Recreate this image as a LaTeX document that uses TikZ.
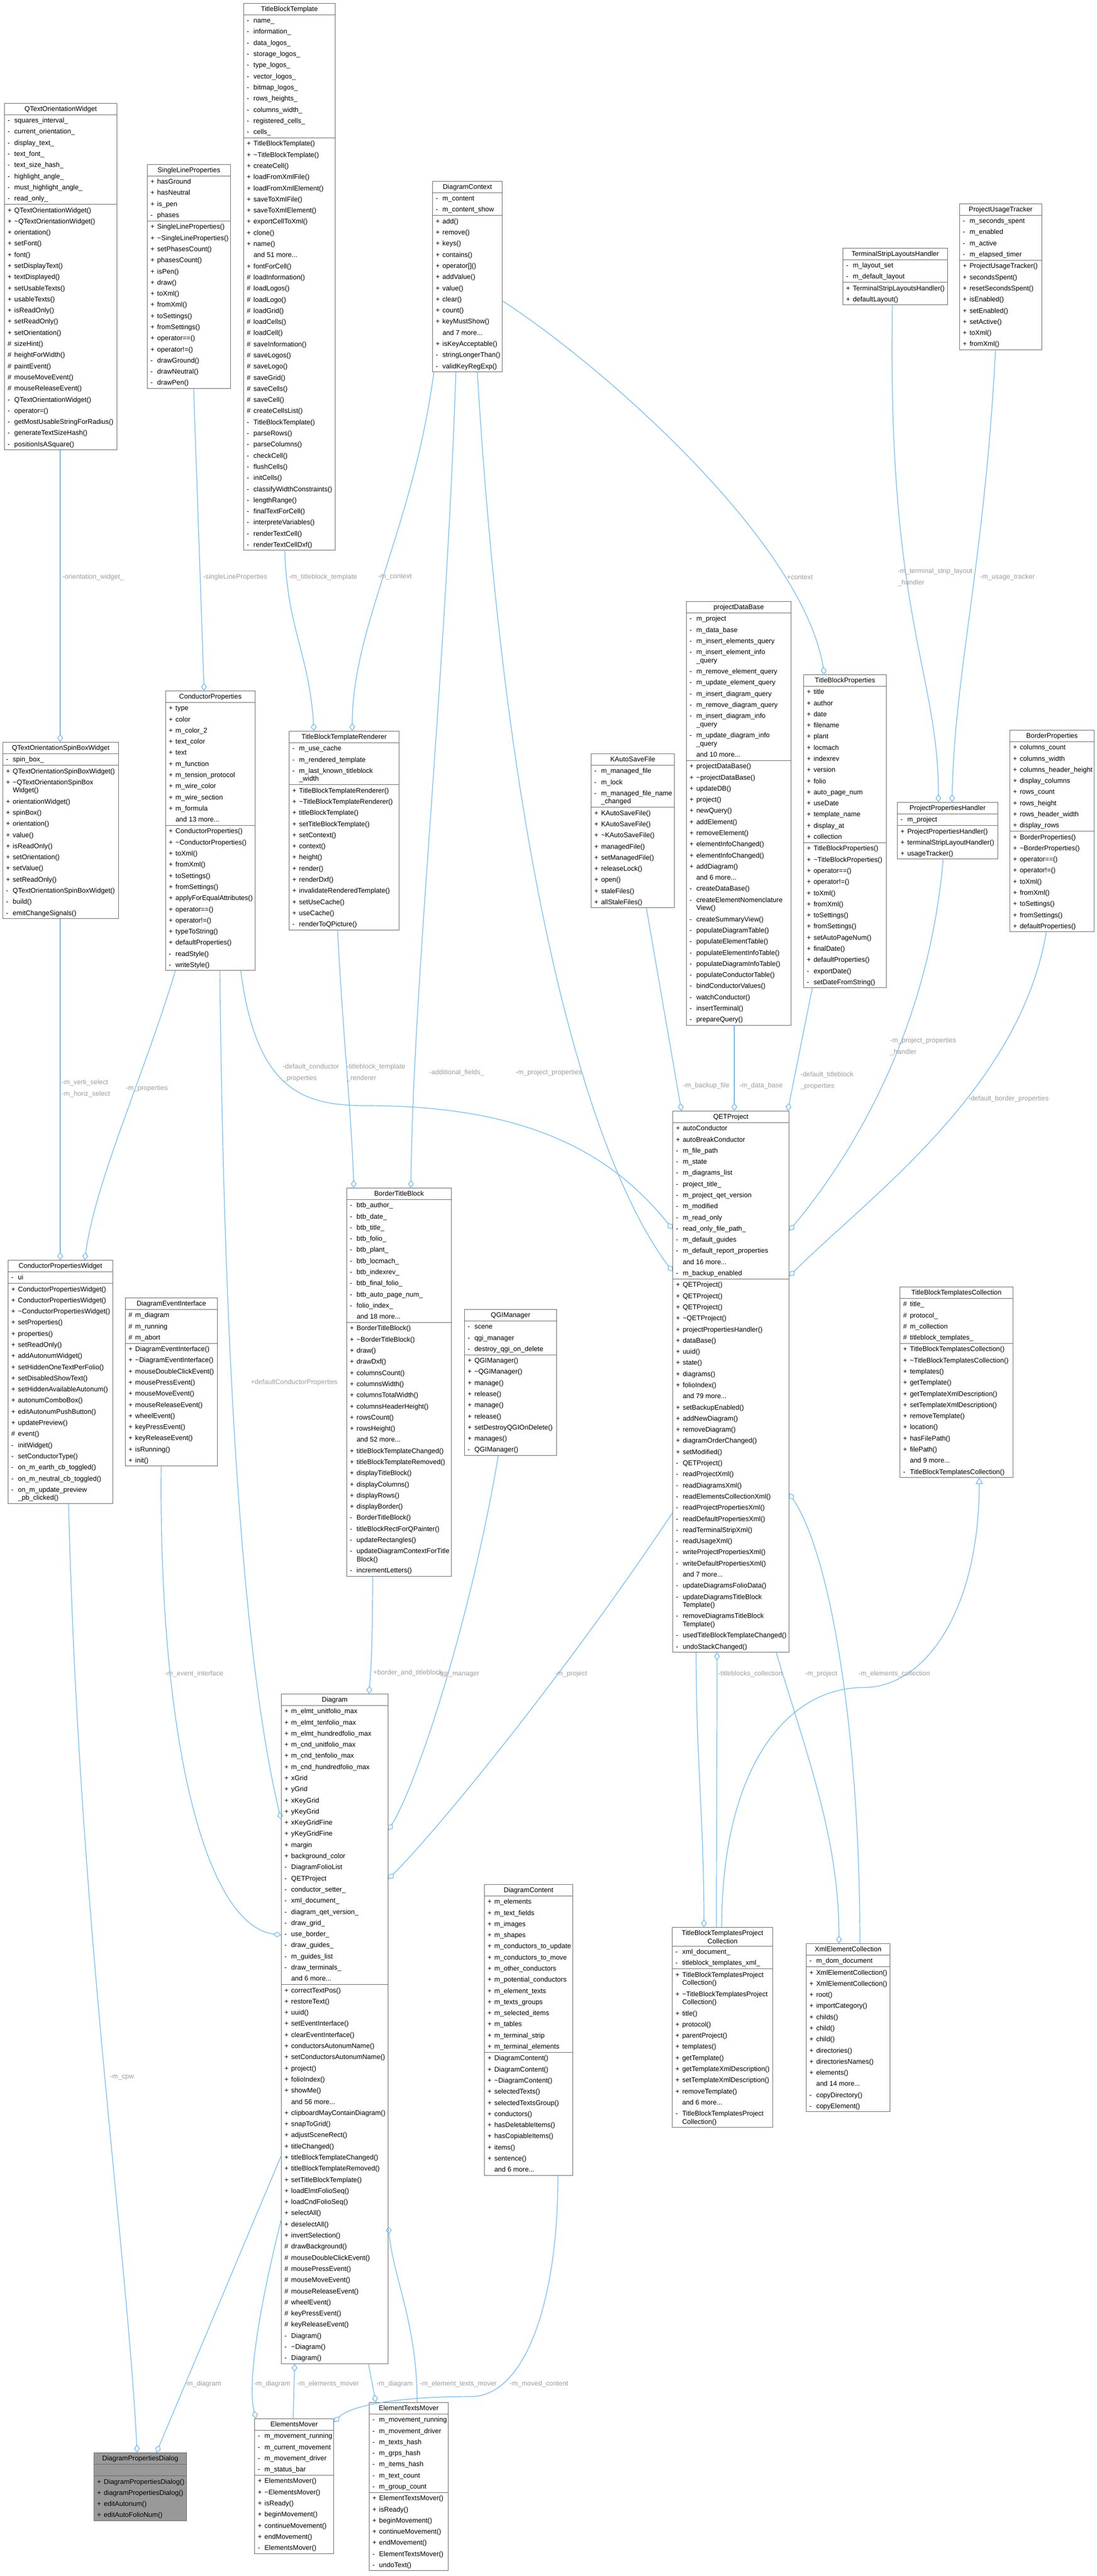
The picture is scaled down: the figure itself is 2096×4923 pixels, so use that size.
\documentclass[tikz,border=0pt]{standalone}
\usepackage{fontspec}
\setmainfont{Liberation Sans}
\usepackage{array,colortbl}
\usetikzlibrary{positioning,calc,arrows.meta}

\definecolor{boxline}{RGB}{102,102,102}
\definecolor{edgeblue}{RGB}{99,184,255}
\definecolor{lblgray}{RGB}{158,158,158}
\definecolor{focusfill}{RGB}{153,153,153}

\newcommand{\clsfont}{\fontsize{6.5}{7.8}\selectfont}
\renewcommand{\arraystretch}{1.365}
\setlength{\arrayrulewidth}{0.5pt}
\arrayrulecolor{boxline}
\newcommand{\tld}{\textasciitilde}
\newcommand{\twoline}[2]{{\renewcommand{\arraystretch}{1}\begin{tabular}[t]{@{}c@{}}#1\\#2\end{tabular}}}

% class box: width (px), title, attributes, methods
\newcommand{\classbox}[4]{%
  \begin{tabular}{@{\hspace{3pt}}>{\raggedright\arraybackslash}p{6.5pt}@{}>{\raggedright\arraybackslash}p{\dimexpr #1pt/2-9.5pt\relax}@{}}
  \multicolumn{2}{@{}c@{}}{#2}\\\hline
  #3\hline
  #4
  \end{tabular}}

\tikzset{
  classnode/.style={draw=boxline, line width=0.5pt, fill=white, inner sep=0pt, anchor=north west, font=\clsfont},
  focusclass/.style={classnode, fill=focusfill},
  member/.style={draw=edgeblue, line width=0.6pt, -{Diamond[open, length=7.5pt, width=5.5pt]}},
  derived/.style={draw=edgeblue, line width=0.6pt, -{Triangle[open, length=6pt, width=7pt]}},
  edgelabel/.style={font=\fontsize{6.5}{10.65}\selectfont, text=lblgray, anchor=west, inner sep=0pt, align=left}
}

\begin{document}
\catcode`\_=12
\begin{tikzpicture}[x=0.5pt,y=-0.5pt]
\useasboundingbox (0,0) rectangle (2096,4923);

% ---- top row
\node[classnode] (tbt) at (465,6) {\classbox{175}{TitleBlockTemplate}{%
-&name_\\ -&information_\\ -&data_logos_\\ -&storage_logos_\\ -&type_logos_\\ -&vector_logos_\\
-&bitmap_logos_\\ -&rows_heights_\\ -&columns_width_\\ -&registered_cells_\\ -&cells_\\}{%
+&TitleBlockTemplate()\\ +&\tld TitleBlockTemplate()\\ +&createCell()\\ +&loadFromXmlFile()\\
+&loadFromXmlElement()\\ +&saveToXmlFile()\\ +&saveToXmlElement()\\ +&exportCellToXml()\\
+&clone()\\ +&name()\\ &and 51 more...\\ +&fontForCell()\\ \#&loadInformation()\\ \#&loadLogos()\\
\#&loadLogo()\\ \#&loadGrid()\\ \#&loadCells()\\ \#&loadCell()\\ \#&saveInformation()\\ \#&saveLogos()\\
\#&saveLogo()\\ \#&saveGrid()\\ \#&saveCells()\\ \#&saveCell()\\ \#&createCellsList()\\
-&TitleBlockTemplate()\\ -&parseRows()\\ -&parseColumns()\\ -&checkCell()\\ -&flushCells()\\
-&initCells()\\ -&classifyWidthConstraints()\\ -&lengthRange()\\ -&finalTextForCell()\\
-&interpreteVariables()\\ -&renderTextCell()\\ -&renderTextCellDxf()}};

\node[classnode] (qtow) at (8,197) {\classbox{215}{QTextOrientationWidget}{%
-&squares_interval_\\ -&current_orientation_\\ -&display_text_\\ -&text_font_\\ -&text_size_hash_\\
-&highlight_angle_\\ -&must_highlight_angle_\\ -&read_only_\\}{%
+&QTextOrientationWidget()\\ +&\tld QTextOrientationWidget()\\ +&orientation()\\ +&setFont()\\
+&font()\\ +&setDisplayText()\\ +&textDisplayed()\\ +&setUsableTexts()\\ +&usableTexts()\\
+&isReadOnly()\\ +&setReadOnly()\\ +&setOrientation()\\ \#&sizeHint()\\ \#&heightForWidth()\\
\#&paintEvent()\\ \#&mouseMoveEvent()\\ \#&mouseReleaseEvent()\\ -&QTextOrientationWidget()\\
-&operator=()\\ -&getMostUsableStringForRadius()\\ -&generateTextSizeHash()\\ -&positionIsASquare()}};

\node[classnode] (slp) at (281,314) {\classbox{159}{SingleLineProperties}{%
+&hasGround\\ +&hasNeutral\\ +&is_pen\\ -&phases\\}{%
+&SingleLineProperties()\\ +&\tld SingleLineProperties()\\ +&setPhasesCount()\\ +&phasesCount()\\
+&isPen()\\ +&draw()\\ +&toXml()\\ +&fromXml()\\ +&toSettings()\\ +&fromSettings()\\
+&operator==()\\ +&operator!=()\\ -&drawGround()\\ -&drawNeutral()\\ -&drawPen()}};

\node[classnode] (dc) at (826,346) {\classbox{133}{DiagramContext}{%
-&m_content\\ -&m_content_show\\}{%
+&add()\\ +&remove()\\ +&keys()\\ +&contains()\\ +&operator[]()\\ +&addValue()\\ +&value()\\
+&clear()\\ +&count()\\ +&keyMustShow()\\ &and 7 more...\\ +&isKeyAcceptable()\\
-&stringLongerThan()\\ -&validKeyRegExp()}};

\node[classnode] (tslh) at (1610,474) {\classbox{200}{TerminalStripLayoutsHandler}{%
-&m_layout_set\\ -&m_default_layout\\}{%
+&TerminalStripLayoutsHandler()\\ +&defaultLayout()}};

\node[classnode] (put) at (1833,389) {\classbox{157}{ProjectUsageTracker}{%
-&m_seconds_spent\\ -&m_enabled\\ -&m_active\\ -&m_elapsed_timer\\}{%
+&ProjectUsageTracker()\\ +&secondsSpent()\\ +&resetSecondsSpent()\\ +&isEnabled()\\
+&setEnabled()\\ +&setActive()\\ +&toXml()\\ +&fromXml()}};

% ---- second row
\node[classnode] (qtosbw) at (5,1418) {\classbox{221}{QTextOrientationSpinBoxWidget}{%
-&spin_box_\\}{%
+&QTextOrientationSpinBoxWidget()\\ +&\tld QTextOrientationSpinBox\newline Widget()\\
+&orientationWidget()\\ +&spinBox()\\ +&orientation()\\ +&value()\\ +&isReadOnly()\\
+&setOrientation()\\ +&setValue()\\ +&setReadOnly()\\ -&QTextOrientationSpinBoxWidget()\\
-&build()\\ -&emitChangeSignals()}};

\node[classnode] (cp) at (316,1320) {\classbox{171}{ConductorProperties}{%
+&type\\ +&color\\ +&m_color_2\\ +&text_color\\ +&text\\ +&m_function\\ +&m_tension_protocol\\
+&m_wire_color\\ +&m_wire_section\\ +&m_formula\\ &and 13 more...\\}{%
+&ConductorProperties()\\ +&\tld ConductorProperties()\\ +&toXml()\\ +&fromXml()\\ +&toSettings()\\
+&fromSettings()\\ +&applyForEqualAttributes()\\ +&operator==()\\ +&operator!=()\\
+&typeToString()\\ +&defaultProperties()\\ -&readStyle()\\ -&writeStyle()}};

\node[classnode] (tbtr) at (552,1397) {\classbox{210}{TitleBlockTemplateRenderer}{%
-&m_use_cache\\ -&m_rendered_template\\ -&m_last_known_titleblock\newline _width\\}{%
+&TitleBlockTemplateRenderer()\\ +&\tld TitleBlockTemplateRenderer()\\ +&titleBlockTemplate()\\
+&setTitleBlockTemplate()\\ +&setContext()\\ +&context()\\ +&height()\\ +&render()\\
+&renderDxf()\\ +&invalidateRenderedTemplate()\\ +&setUseCache()\\ +&useCache()\\
-&renderToQPicture()}};

\node[classnode] (kasf) at (1129,1440) {\classbox{159}{KAutoSaveFile}{%
-&m_managed_file\\ -&m_lock\\ -&m_managed_file_name\newline _changed\\}{%
+&KAutoSaveFile()\\ +&KAutoSaveFile()\\ +&\tld KAutoSaveFile()\\ +&managedFile()\\
+&setManagedFile()\\ +&releaseLock()\\ +&open()\\ +&staleFiles()\\ +&allStaleFiles()}};

\node[classnode] (pdb) at (1311,1149) {\classbox{200}{projectDataBase}{%
-&m_project\\ -&m_data_base\\ -&m_insert_elements_query\\ -&m_insert_element_info\newline _query\\
-&m_remove_element_query\\ -&m_update_element_query\\ -&m_insert_diagram_query\\
-&m_remove_diagram_query\\ -&m_insert_diagram_info\newline _query\\
-&m_update_diagram_info\newline _query\\ &and 10 more...\\}{%
+&projectDataBase()\\ +&\tld projectDataBase()\\ +&updateDB()\\ +&project()\\ +&newQuery()\\
+&addElement()\\ +&removeElement()\\ +&elementInfoChanged()\\ +&elementInfoChanged()\\
+&addDiagram()\\ &and 6 more...\\ -&createDataBase()\\ -&createElementNomenclature\newline View()\\
-&createSummaryView()\\ -&populateDiagramTable()\\ -&populateElementTable()\\
-&populateElementInfoTable()\\ -&populateDiagramInfoTable()\\ -&populateConductorTable()\\
-&bindConductorValues()\\ -&watchConductor()\\ -&insertTerminal()\\ -&prepareQuery()}};

\node[classnode] (tbp) at (1535,1289) {\classbox{158}{TitleBlockProperties}{%
+&title\\ +&author\\ +&date\\ +&filename\\ +&plant\\ +&locmach\\ +&indexrev\\ +&version\\
+&folio\\ +&auto_page_num\\ +&useDate\\ +&template_name\\ +&display_at\\ +&collection\\}{%
+&TitleBlockProperties()\\ +&\tld TitleBlockProperties()\\ +&operator==()\\ +&operator!=()\\
+&toXml()\\ +&fromXml()\\ +&toSettings()\\ +&fromSettings()\\ +&setAutoPageNum()\\
+&finalDate()\\ +&defaultProperties()\\ -&exportDate()\\ -&setDateFromString()}};

\node[classnode] (pph) at (1714,1533) {\classbox{192}{ProjectPropertiesHandler}{%
-&m_project\\}{%
+&ProjectPropertiesHandler()\\ +&terminalStripLayoutHandler()\\ +&usageTracker()}};

\node[classnode] (bp) at (1929,1395) {\classbox{161}{BorderProperties}{%
+&columns_count\\ +&columns_width\\ +&columns_header_height\\ +&display_columns\\
+&rows_count\\ +&rows_height\\ +&rows_header_width\\ +&display_rows\\}{%
+&BorderProperties()\\ +&\tld BorderProperties()\\ +&operator==()\\ +&operator!=()\\
+&toXml()\\ +&fromXml()\\ +&toSettings()\\ +&fromSettings()\\ +&defaultProperties()}};

% ---- third row
\node[classnode] (cpw) at (15,2408) {\classbox{200}{ConductorPropertiesWidget}{%
-&ui\\}{%
+&ConductorPropertiesWidget()\\ +&ConductorPropertiesWidget()\\ +&\tld ConductorPropertiesWidget()\\
+&setProperties()\\ +&properties()\\ +&setReadOnly()\\ +&addAutonumWidget()\\
+&setHiddenOneTextPerFolio()\\ +&setDisabledShowText()\\ +&setHiddenAvailableAutonum()\\
+&autonumComboBox()\\ +&editAutonumPushButton()\\ +&updatePreview()\\ \#&event()\\
-&initWidget()\\ -&setConductorType()\\ -&on_m_earth_cb_toggled()\\ -&on_m_neutral_cb_toggled()\\
-&on_m_update_preview\newline _pb_clicked()}};

\node[classnode] (dei) at (239,2480) {\classbox{176}{DiagramEventInterface}{%
\#&m_diagram\\ \#&m_running\\ \#&m_abort\\}{%
+&DiagramEventInterface()\\ +&\tld DiagramEventInterface()\\ +&mouseDoubleClickEvent()\\
+&mousePressEvent()\\ +&mouseMoveEvent()\\ +&mouseReleaseEvent()\\ +&wheelEvent()\\
+&keyPressEvent()\\ +&keyReleaseEvent()\\ +&isRunning()\\ +&init()}};

\node[classnode] (btb) at (662,2270) {\classbox{200}{BorderTitleBlock}{%
-&btb_author_\\ -&btb_date_\\ -&btb_title_\\ -&btb_folio_\\ -&btb_plant_\\ -&btb_locmach_\\
-&btb_indexrev_\\ -&btb_final_folio_\\ -&btb_auto_page_num_\\ -&folio_index_\\ &and 18 more...\\}{%
+&BorderTitleBlock()\\ +&\tld BorderTitleBlock()\\ +&draw()\\ +&drawDxf()\\ +&columnsCount()\\
+&columnsWidth()\\ +&columnsTotalWidth()\\ +&columnsHeaderHeight()\\ +&rowsCount()\\
+&rowsHeight()\\ &and 52 more...\\ +&titleBlockTemplateChanged()\\ +&titleBlockTemplateRemoved()\\
+&displayTitleBlock()\\ +&displayColumns()\\ +&displayRows()\\ +&displayBorder()\\
-&BorderTitleBlock()\\ -&titleBlockRectForQPainter()\\ -&updateRectangles()\\
-&updateDiagramContextForTitle\newline Block()\\ -&incrementLetters()}};

\node[classnode] (qgim) at (887,2502) {\classbox{176}{QGIManager}{%
-&scene\\ -&qgi_manager\\ -&destroy_qgi_on_delete\\}{%
+&QGIManager()\\ +&\tld QGIManager()\\ +&manage()\\ +&release()\\ +&manage()\\ +&release()\\
+&setDestroyQGIOnDelete()\\ +&manages()\\ -&QGIManager()}};

\node[classnode] (qetp) at (1285,2123) {\classbox{222}{QETProject}{%
+&autoConductor\\ +&autoBreakConductor\\ -&m_file_path\\ -&m_state\\ -&m_diagrams_list\\
-&project_title_\\ -&m_project_qet_version\\ -&m_modified\\ -&m_read_only\\
-&read_only_file_path_\\ -&m_default_guides\\ -&m_default_report_properties\\
&and 16 more...\\ -&m_backup_enabled\\}{%
+&QETProject()\\ +&QETProject()\\ +&QETProject()\\ +&\tld QETProject()\\
+&projectPropertiesHandler()\\ +&dataBase()\\ +&uuid()\\ +&state()\\ +&diagrams()\\
+&folioIndex()\\ &and 79 more...\\ +&setBackupEnabled()\\ +&addNewDiagram()\\
+&removeDiagram()\\ +&diagramOrderChanged()\\ +&setModified()\\ -&QETProject()\\
-&readProjectXml()\\ -&readDiagramsXml()\\ -&readElementsCollectionXml()\\
-&readProjectPropertiesXml()\\ -&readDefaultPropertiesXml()\\ -&readTerminalStripXml()\\
-&readUsageXml()\\ -&writeProjectPropertiesXml()\\ -&writeDefaultPropertiesXml()\\
&and 7 more...\\ -&updateDiagramsFolioData()\\ -&updateDiagramsTitleBlock\newline Template()\\
-&removeDiagramsTitleBlock\newline Template()\\ -&usedTitleBlockTemplateChanged()\\
-&undoStackChanged()}};

\node[classnode] (tbtc) at (1719,2459) {\classbox{216}{TitleBlockTemplatesCollection}{%
\#&title_\\ \#&protocol_\\ \#&m_collection\\ \#&titleblock_templates_\\}{%
+&TitleBlockTemplatesCollection()\\ +&\tld TitleBlockTemplatesCollection()\\ +&templates()\\
+&getTemplate()\\ +&getTemplateXmlDescription()\\ +&setTemplateXmlDescription()\\
+&removeTemplate()\\ +&location()\\ +&hasFilePath()\\ +&filePath()\\ &and 9 more...\\
-&TitleBlockTemplatesCollection()}};

% ---- lower part
\node[classnode] (diag) at (537,3237) {\classbox{204}{Diagram}{%
+&m_elmt_unitfolio_max\\ +&m_elmt_tenfolio_max\\ +&m_elmt_hundredfolio_max\\
+&m_cnd_unitfolio_max\\ +&m_cnd_tenfolio_max\\ +&m_cnd_hundredfolio_max\\ +&xGrid\\ +&yGrid\\
+&xKeyGrid\\ +&yKeyGrid\\ +&xKeyGridFine\\ +&yKeyGridFine\\ +&margin\\ +&background_color\\
-&DiagramFolioList\\ -&QETProject\\ -&conductor_setter_\\ -&xml_document_\\
-&diagram_qet_version_\\ -&draw_grid_\\ -&use_border_\\ -&draw_guides_\\ -&m_guides_list\\
-&draw_terminals_\\ &and 6 more...\\}{%
+&correctTextPos()\\ +&restoreText()\\ +&uuid()\\ +&setEventInterface()\\
+&clearEventInterface()\\ +&conductorsAutonumName()\\ +&setConductorsAutonumName()\\
+&project()\\ +&folioIndex()\\ +&showMe()\\ &and 56 more...\\ +&clipboardMayContainDiagram()\\
+&snapToGrid()\\ +&adjustSceneRect()\\ +&titleChanged()\\ +&titleBlockTemplateChanged()\\
+&titleBlockTemplateRemoved()\\ +&setTitleBlockTemplate()\\ +&loadElmtFolioSeq()\\
+&loadCndFolioSeq()\\ +&selectAll()\\ +&deselectAll()\\ +&invertSelection()\\
\#&drawBackground()\\ \#&mouseDoubleClickEvent()\\ \#&mousePressEvent()\\ \#&mouseMoveEvent()\\
\#&mouseReleaseEvent()\\ \#&wheelEvent()\\ \#&keyPressEvent()\\ \#&keyReleaseEvent()\\
-&Diagram()\\ -&\tld Diagram()\\ -&Diagram()}};

\node[classnode] (dcont) at (925,3601) {\classbox{169}{DiagramContent}{%
+&m_elements\\ +&m_text_fields\\ +&m_images\\ +&m_shapes\\ +&m_conductors_to_update\\
+&m_conductors_to_move\\ +&m_other_conductors\\ +&m_potential_conductors\\ +&m_element_texts\\
+&m_texts_groups\\ +&m_selected_items\\ +&m_tables\\ +&m_terminal_strip\\ +&m_terminal_elements\\}{%
+&DiagramContent()\\ +&DiagramContent()\\ +&\tld DiagramContent()\\ +&selectedTexts()\\
+&selectedTextsGroup()\\ +&conductors()\\ +&hasDeletableItems()\\ +&hasCopiableItems()\\
+&items()\\ +&sentence()\\ &and 6 more...}};

\node[classnode] (tbtpc) at (1284,3683) {\classbox{192}{\twoline{TitleBlockTemplatesProject}{Collection}}{%
-&xml_document_\\ -&titleblock_templates_xml_\\}{%
+&TitleBlockTemplatesProject\newline Collection()\\ +&\tld TitleBlockTemplatesProject\newline Collection()\\
+&title()\\ +&protocol()\\ +&parentProject()\\ +&templates()\\ +&getTemplate()\\
+&getTemplateXmlDescription()\\ +&setTemplateXmlDescription()\\ +&removeTemplate()\\
&and 6 more...\\ -&TitleBlockTemplatesProject\newline Collection()}};

\node[classnode] (xec) at (1540,3714) {\classbox{160}{XmlElementCollection}{%
-&m_dom_document\\}{%
+&XmlElementCollection()\\ +&XmlElementCollection()\\ +&root()\\ +&importCategory()\\
+&childs()\\ +&child()\\ +&child()\\ +&directories()\\ +&directoriesNames()\\ +&elements()\\
&and 14 more...\\ -&copyDirectory()\\ -&copyElement()}};

\node[focusclass] (dpd) at (179,4687) {\classbox{177}{DiagramPropertiesDialog}{&\\}{%
+&DiagramPropertiesDialog()\\ +&diagramPropertiesDialog()\\ +&editAutonum()\\ +&editAutoFolioNum()}};

\node[classnode] (em) at (486,4622) {\classbox{151}{ElementsMover}{%
-&m_movement_running\\ -&m_current_movement\\ -&m_movement_driver\\ -&m_status_bar\\}{%
+&ElementsMover()\\ +&\tld ElementsMover()\\ +&isReady()\\ +&beginMovement()\\
+&continueMovement()\\ +&endMovement()\\ -&ElementsMover()}};

\node[classnode] (etm) at (705,4591) {\classbox{151}{ElementTextsMover}{%
-&m_movement_running\\ -&m_movement_driver\\ -&m_texts_hash\\ -&m_grps_hash\\ -&m_items_hash\\
-&m_text_count\\ -&m_group_count\\}{%
+&ElementTextsMover()\\ +&isReady()\\ +&beginMovement()\\ +&continueMovement()\\
+&endMovement()\\ -&ElementTextsMover()\\ -&undoText()}};

% ---- bends
\coordinate (bendcp) at (700,2113);
\coordinate (bendinh) at (1650,3225);
\coordinate (bendmc) at (900,4580);

% ---- members
\draw[member] ($(qtow.south west)+(107,0)$) -- ($(qtosbw.north west)+(110,0)$);
\draw[member] ($(slp.south west)+(89,0)$) -- ($(cp.north west)+(74,0)$);
\draw[member] ($(tbt.south west)+(79,0)$) .. controls +(5,150) and +(-10,-150) .. ($(tbtr.north west)+(48,0)$);
\draw[member] ($(dc.south west)+(3,0)$) .. controls +(-40,300) and +(0,-200) .. ($(tbtr.north west)+(121,0)$);
\draw[member] ($(dc.south west)+(45,0)$) .. controls +(-20,600) and +(5,-400) .. ($(btb.north west)+(123,0)$);
\draw[member] ($(dc.south west)+(86,0)$) .. controls +(60,1000) and +(-150,-200) .. ($(qetp.north west)+(0,307)$);
\draw[member] ($(dc.north east)+(0,229)$) .. controls +(200,130) and +(-40,-250) .. ($(tbp.north west)+(40,0)$);
\draw[member] ($(tslh.south west)+(95,0)$) .. controls +(-10,600) and +(0,-250) .. ($(pph.north west)+(79,0)$);
\draw[member] ($(put.south west)+(69,0)$) .. controls +(-20,400) and +(5,-250) .. ($(pph.north west)+(105,0)$);
\draw[member] ($(qtosbw.south west)+(110,0)$) -- ($(cpw.north west)+(100,0)$);
\draw[member] ($(cp.south west)+(19,0)$) .. controls +(-60,200) and +(20,-150) .. ($(cpw.north west)+(147,0)$);
\draw[member] ($(cp.south west)+(144,0)$) .. controls +(30,230) and +(-120,0) .. (bendcp)
  .. controls +(300,0) and +(-120,-150) .. ($(qetp.north west)+(0,226)$);
\draw[member] ($(cp.south west)+(104,0)$) .. controls +(10,900) and +(-60,-250) .. ($(diag.north west)+(0,240)$);
\draw[member] ($(tbtr.south west)+(93,0)$) .. controls +(10,200) and +(-5,-150) .. ($(btb.north west)+(14,0)$);
\draw[member] ($(kasf.south west)+(106,0)$) -- ($(qetp.north west)+(17,0)$);
\draw[member] ($(pdb.south west)+(92,0)$) -- ($(qetp.north west)+(118,0)$);
\draw[member] ($(tbp.south west)+(17,0)$) -- ($(qetp.north west)+(220,0)$);
\draw[member] ($(pph.south west)+(88,0)$) .. controls +(-30,350) and +(100,-120) .. ($(qetp.north east)+(0,229)$);
\draw[member] ($(bp.south west)+(70,0)$) .. controls +(-50,300) and +(150,-150) .. ($(qetp.north east)+(0,316)$);
\draw[member] ($(qgim.south west)+(65,0)$) .. controls +(-50,300) and +(60,-100) .. ($(diag.north east)+(0,261)$);
\draw[member] ($(qetp.north west)+(0,768)$) .. controls +(-200,300) and +(100,-100) .. ($(diag.north east)+(0,354)$);
\draw[member] ($(btb.south west)+(50,0)$) .. controls +(0,100) and +(5,-60) .. ($(diag.north west)+(168,0)$);
\draw[member] ($(dei.south west)+(69,0)$) .. controls +(-5,500) and +(-150,-20) .. ($(diag.north west)+(0,461)$);
\draw[member] ($(qetp.south west)+(45,0)$) .. controls +(0,200) and +(0,-200) .. ($(tbtpc.north west)+(61,0)$);
\draw[member] ($(tbtpc.north west)+(85,0)$) .. controls +(0,-200) and +(0,200) .. ($(qetp.south west)+(85,0)$);
\draw[member] ($(xec.north west)+(103,0)$) .. controls +(0,-400) and +(80,120) .. ($(qetp.north east)+(0,731)$);
\draw[member] ($(qetp.south east)+(-25,0)$) .. controls +(60,200) and +(0,-200) .. ($(xec.north west)+(63,0)$);
\draw[member] ($(cpw.south west)+(116,0)$) .. controls +(20,800) and +(-20,-400) .. ($(dpd.north west)+(83,0)$);
\draw[member] ($(diag.north west)+(1,881)$) -- ($(dpd.north west)+(120,0)$);
\draw[member] ($(diag.north west)+(1,1002)$) .. controls +(-50,200) and +(-15,-60) .. ($(em.north west)+(3,0)$);
\draw[member] ($(em.north west)+(74,0)$) -- ($(diag.south west)+(26,0)$);
\draw[member] ($(diag.south west)+(167,0)$) -- ($(etm.north west)+(13,0)$);
\draw[member] ($(etm.north west)+(92,0)$) .. controls +(0,-150) and +(10,100) .. ($(diag.north east)+(0,1018)$);
\draw[member] ($(dcont.south west)+(141,0)$) .. controls +(0,250) and +(100,0) .. (bendmc)
  .. controls +(-150,0) and +(30,-30) .. ($(em.north east)+(0,7)$);
\draw[derived] ($(tbtpc.north west)+(95,0)$) .. controls +(0,-300) and +(-150,0) .. (bendinh)
  .. controls +(120,0) and +(0,250) .. ($(tbtc.south west)+(152,0)$);

% ---- edge labels
\node[edgelabel] (lorient) at (119,1103) {-orientation_widget_};
\node[edgelabel] (lsingle) at (388,1103) {-singleLineProperties};
\node[edgelabel] (ltbt) at (552,1103) {-m_titleblock_template};
\node[edgelabel] (lctx) at (722,1103) {-m_context};
\node[edgelabel] (lcontext) at (1503,1103) {+context};
\node[edgelabel] (ltslh) at (1715,1103) {-m_terminal_strip_layout\\_handler};
\node[edgelabel] (lput) at (1872,1103) {-m_usage_tracker};
\node[edgelabel] (lverti) at (118,2080) {-m_verti_select\\-m_horiz_select};
\node[edgelabel] (lprops) at (240,2080) {-m_properties};
\node[edgelabel] (ldefcp) at (540,2050) {-default_conductor\\_properties};
\node[edgelabel] (lrend) at (662,2050) {-titleblock_template\\_renderer};
\node[edgelabel] (laddf) at (820,2050) {-additional_fields_};
\node[edgelabel] (lprojprop) at (985,2050) {-m_project_properties};
\node[edgelabel] (lbackup) at (1305,2075) {-m_backup_file};
\node[edgelabel] (ldb) at (1412,2075) {-m_data_base};
\node[edgelabel] (ldtbp) at (1529,2065) {-default_titleblock\\_properties};
\node[edgelabel] (lpph) at (1700,2000) {-m_project_properties\\_handler};
\node[edgelabel] (ldbp) at (1850,2100) {-default_border_properties};
\node[edgelabel] (ldcp) at (479,2642) {+defaultConductorProperties};
\node[edgelabel] (levent) at (315,3199) {-m_event_interface};
\node[edgelabel] (lborder) at (713,3197) {+border_and_titleblock};
\node[edgelabel] (lqgi) at (835,3199) {-qgi_manager};
\node[edgelabel] (lproj) at (1060,3199) {-m_project};
\node[edgelabel] (ltbcoll) at (1372,3199) {-titleblocks_collection};
\node[edgelabel, anchor=east] (lprojx) at (1600,3199) {-m_project};
\node[edgelabel] (lelcoll) at (1640,3199) {-m_elements_collection};
\node[edgelabel] (lcpw) at (210,3970) {-m_cpw};
\node[edgelabel] (ldiag1) at (353,4556) {-m_diagram};
\node[edgelabel] (ldiag2) at (485,4556) {-m_diagram};
\node[edgelabel] (lmover) at (567,4556) {-m_elements_mover};
\node[edgelabel] (ldiag3) at (719,4556) {-m_diagram};
\node[edgelabel] (ltexts) at (802,4556) {-m_element_texts_mover};
\node[edgelabel] (lmoved) at (974,4556) {-m_moved_content};
\end{tikzpicture}
\end{document}
